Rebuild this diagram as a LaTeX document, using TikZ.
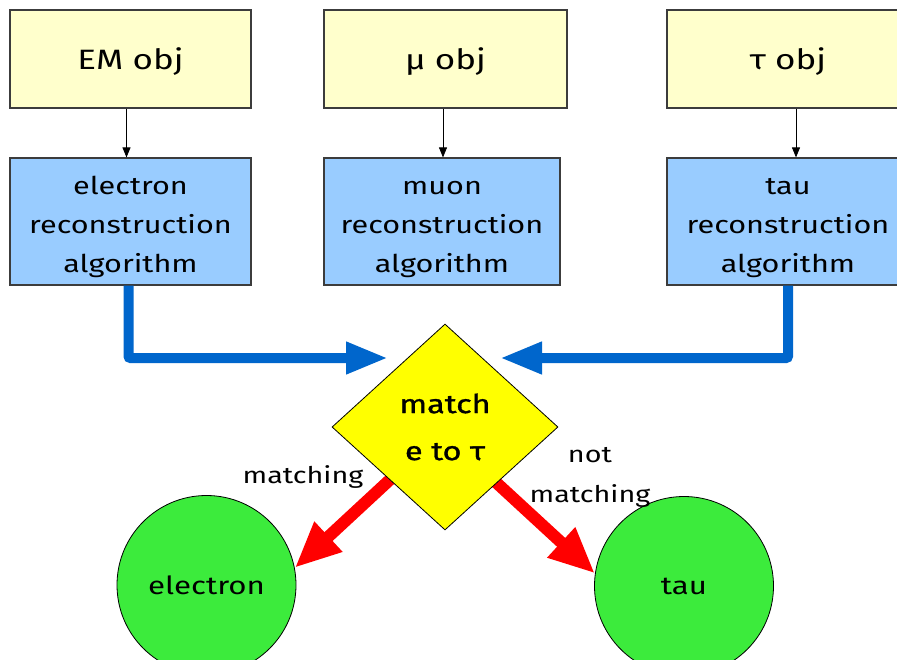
\documentclass[tikz,border=0pt]{standalone}
\usepackage{fontspec}
\newfontfamily\chalk[FakeStretch=1.25]{Fira Sans}
\newfontfamily\chalkbold[FakeStretch=1.25,FakeBold=1.2]{Fira Sans}
\usetikzlibrary{shapes.geometric,arrows.meta}
\definecolor{boxyellow}{RGB}{255,255,204}
\definecolor{boxblue}{RGB}{153,204,255}
\definecolor{diayellow}{RGB}{255,255,0}
\definecolor{circgreen}{RGB}{60,235,60}
\definecolor{flowblue}{RGB}{0,102,204}
\definecolor{flowred}{RGB}{255,0,0}
\definecolor{edgegray}{RGB}{60,60,60}
\newcommand{\topstrut}{\rule{0pt}{30pt}}
\begin{document}
\begin{tikzpicture}[x=1pt,y=-1pt,
  objbox/.style={draw=edgegray, line width=1.2pt, fill=boxyellow, minimum width=241pt, minimum height=98pt, inner sep=0pt,
    text height=24pt, text depth=4pt,
    font={\chalk\fontsize{28}{30}\selectfont}},
  recobox/.style={draw=edgegray, line width=1.2pt, fill=boxblue, minimum width=241pt, minimum height=127pt, inner sep=0pt, align=center,
    font={\chalk\fontsize{24.5}{39}\selectfont}},
  thinarrow/.style={draw=black, line width=0.8pt, -{Triangle[length=10pt,width=8pt]}},
  bluearrow/.style={draw=flowblue, line width=10pt, rounded corners=2pt, -{Triangle[length=42pt,width=30pt]}},
  redarrow/.style={draw=flowred, line width=12pt, -{Triangle[length=46pt,width=38pt]}},
  decision/.style={diamond, draw=black, line width=0.8pt, fill=diayellow, minimum width=226pt, minimum height=206pt, inner sep=0pt, align=center,
    font={\chalkbold\fontsize{26}{47}\selectfont}},
  result/.style={circle, draw=black, line width=0.8pt, fill=circgreen, minimum size=179pt, inner sep=0pt,
    font={\chalk\fontsize{25}{30}\selectfont}},
  label/.style={align=center, inner sep=0pt, font={\chalk\fontsize{23}{40}\selectfont}}
]
\useasboundingbox (0,0) rectangle (897,659);
\fill[white] (0,0) rectangle (897,659);
\begin{scope}
\clip (0,0) rectangle (897,659);
% object boxes
\node[objbox] (yl) at (130.5,59) {EM obj};
\node[objbox, minimum width=243pt] (ym) at (445.5,59) {μ obj};
\node[objbox, minimum width=242pt] (yr) at (788,59) {τ obj};
% reconstruction boxes
\node[recobox] (bl) at (130.5,221.5) {\topstrut electron\\reconstruction\\algorithm};
\node[recobox, minimum width=236pt] (bm) at (442,221.5) {\topstrut muon\\reconstruction\\algorithm};
\node[recobox, minimum width=242pt] (br) at (788,221.5) {\topstrut tau\\reconstruction\\algorithm};
% thin arrows
\draw[thinarrow] ([xshift=-4pt]yl.south) -- ([xshift=-4pt]bl.north);
\draw[thinarrow] ([xshift=-2.5pt]ym.south) -- ([xshift=1pt]bm.north);
\draw[thinarrow] ([xshift=8pt]yr.south) -- ([xshift=8pt]br.north);
% blue arrows
\coordinate (tl) at (388,358);
\coordinate (tr) at (500,358);
\draw[bluearrow] ([xshift=-2pt]bl.south) |- (tl);
\draw[bluearrow] (br.south) |- (tr);
% result circles and red arrows
\node[result] (ce) at (206.5,585) {electron};
\node[result] (ct) at (684,586) {tau};
\coordinate (sl) at (409,462);
\coordinate (sr) at (475,463);
\draw[redarrow] (sl) -- (ce.11);
\draw[redarrow] (sr) -- (ct.172);
% decision
\node[decision] (dia) at (445,427) {match\\e to τ};
% labels
\node[label] (lm) at (303,477) {matching};
\node[label] (lnm) at (590,477) {not\\matching};
\end{scope}
\end{tikzpicture}
\end{document}
